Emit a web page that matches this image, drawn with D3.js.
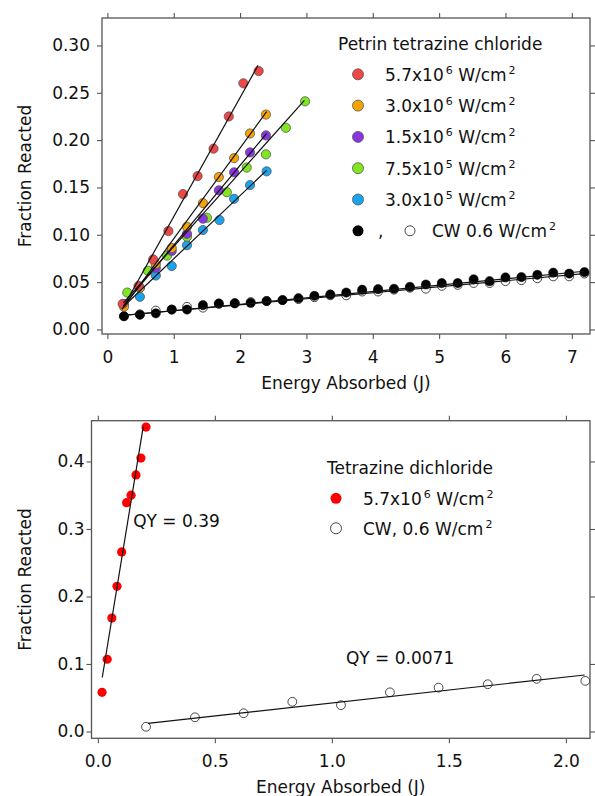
<!DOCTYPE html>
<html>
<head>
<meta charset="utf-8">
<script src="https://cdn.jsdelivr.net/npm/d3@7"></script>
<style>
  body { margin: 0; background: #fff; }
  svg text { font-family: "DejaVu Sans", sans-serif; fill: #111; }
</style>
</head>
<body>
<div id="chart_container"></div>
<script>
// ---- top panel data: Petrin tetrazine chloride ----
const top_x_ticks = [0, 1, 2, 3, 4, 5, 6, 7];
const top_y_ticks = [0, 0.05, 0.10, 0.15, 0.20, 0.25, 0.30];

const e_red = [0.23, 0.47, 0.69, 0.92, 1.14, 1.36, 1.60, 1.83, 2.05, 2.28];
const f_red = [0.027, 0.046, 0.074, 0.104, 0.143, 0.162, 0.191, 0.225, 0.260, 0.273];
const e_orange = [0.25, 0.49, 0.73, 0.97, 1.20, 1.44, 1.68, 1.91, 2.15, 2.39];
const f_orange = [0.024, 0.044, 0.069, 0.086, 0.1085, 0.1335, 0.161, 0.181, 0.207, 0.227];
const e_purple = [0.25, 0.49, 0.73, 0.97, 1.20, 1.44, 1.68, 1.91, 2.15, 2.39];
const f_purple = [0.027, 0.044, 0.065, 0.083, 0.101, 0.117, 0.147, 0.166, 0.187, 0.205];
const e_green = [0.30, 0.61, 0.90, 1.20, 1.50, 1.80, 2.10, 2.39, 2.69, 2.98];
const f_green = [0.039, 0.062, 0.078, 0.098, 0.118, 0.145, 0.171, 0.185, 0.213, 0.241];
const e_blue = [0.49, 0.73, 0.97, 1.20, 1.44, 1.69, 1.91, 2.15, 2.40];
const f_blue = [0.0345, 0.057, 0.067, 0.089, 0.105, 0.1155, 0.138, 0.1525, 0.167];

const e_cw = [0.25, 0.49, 0.73, 0.97, 1.20, 1.44, 1.68, 1.92, 2.16, 2.40,
    2.64, 2.88, 3.12, 3.36, 3.60, 3.84, 4.08, 4.32, 4.56, 4.80,
    5.04, 5.28, 5.52, 5.76, 6.00, 6.24, 6.48, 6.72, 6.96, 7.19];
const f_cw_pulsed = [0.014, 0.0155, 0.017, 0.021, 0.021, 0.0257, 0.0275, 0.0275, 0.028, 0.030,
    0.031, 0.033, 0.0355, 0.037, 0.039, 0.042, 0.0426, 0.043, 0.045, 0.0475,
    0.049, 0.049, 0.053, 0.051, 0.055, 0.0553, 0.0577, 0.060, 0.059, 0.0606];
const f_cw_open = [0.014, 0.016, 0.020, 0.021, 0.024, 0.023, 0.027, 0.028, 0.029, 0.030,
    0.031, 0.032, 0.034, 0.036, 0.036, 0.040, 0.040, 0.042, 0.044, 0.043,
    0.046, 0.047, 0.049, 0.049, 0.051, 0.052, 0.054, 0.056, 0.056, 0.059];

// fit lines [x0, y0, x1, y1]
const petrin_fits = [
    [0.22, 0.021, 2.27, 0.279],
    [0.24, 0.023, 2.40, 0.230],
    [0.24, 0.025, 2.40, 0.207],
    [0.24, 0.028, 2.97, 0.242],
    [0.24, 0.024, 2.40, 0.168],
    [0.25, 0.0148, 7.19, 0.0615],
    [0.25, 0.0150, 7.19, 0.0590]
];

const petrin_title = "Petrin tetrazine chloride";
const petrin_mant = ["5.7x10", "3.0x10", "1.5x10", "7.5x10", "3.0x10"];
const petrin_exp = ["6", "6", "6", "5", "5"];

// ---- bottom panel data: Tetrazine dichloride ----
const bot_x_ticks = [0, 0.5, 1.0, 1.5, 2.0];
const bot_y_ticks = [0, 0.1, 0.2, 0.3, 0.4];

const e_dichl_pulsed = [0.018, 0.040, 0.060, 0.082, 0.102, 0.123, 0.142, 0.163, 0.184, 0.206];
const f_dichl_pulsed = [0.058, 0.107, 0.168, 0.215, 0.266, 0.339, 0.350, 0.380, 0.405, 0.451];
const e_dichl_cw = [0.206, 0.415, 0.623, 0.831, 1.039, 1.248, 1.456, 1.666, 1.875, 2.083];
const f_dichl_cw = [0.007, 0.021, 0.027, 0.044, 0.039, 0.058, 0.065, 0.070, 0.078, 0.075];

const dichl_fits = [
    [0.019, 0.080, 0.194, 0.4515],
    [0.214, 0.012, 2.08, 0.0837]
];
const dichl_qy = ["QY = 0.39", "QY = 0.0071"];
const dichl_qy_pos = [[0.151, 0.303], [1.060, 0.100]];

// ---- styles ----
const series_colors = ["#f24545", "#f7a400", "#8a36e0", "#80e61e", "#1aa3ee"];
const frame_color = "#555";
const font_size = 17;

const svg = d3.select("#chart_container")
    .append("svg")
    .attr("width", 595)
    .attr("height", 796);

function zip(xs, ys) {
    return xs.map((x, i) => ({ x: x, y: ys[i] }));
}

function drawFrame(box, x, y, xTicks, yTicks, xFmt, yFmt, yPad) {
    const g = svg.append("g");

    const bottom = g.append("g")
        .attr("transform", `translate(0, ${box.bottom})`)
        .call(d3.axisBottom(x).tickValues(xTicks).tickFormat(xFmt).tickSizeInner(5).tickSizeOuter(0).tickPadding(12));
    const top = g.append("g")
        .attr("transform", `translate(0, ${box.top})`)
        .call(d3.axisTop(x).tickValues(xTicks).tickFormat("").tickSizeInner(5).tickSizeOuter(0));
    const left = g.append("g")
        .attr("transform", `translate(${box.left}, 0)`)
        .call(d3.axisLeft(y).tickValues(yTicks).tickFormat(yFmt).tickSizeInner(5).tickSizeOuter(0).tickPadding(yPad));
    const right = g.append("g")
        .attr("transform", `translate(${box.right}, 0)`)
        .call(d3.axisRight(y).tickValues(yTicks).tickFormat("").tickSizeInner(5).tickSizeOuter(0));

    [bottom, top, left, right].forEach(a => {
        a.select(".domain").remove();
        a.selectAll("line").attr("stroke", frame_color).attr("stroke-width", 1.1);
        a.selectAll("text").attr("font-size", font_size).attr("fill", "#111");
    });

    g.append("rect")
        .attr("x", box.left)
        .attr("y", box.top)
        .attr("width", box.right - box.left)
        .attr("height", box.bottom - box.top)
        .attr("fill", "none")
        .attr("stroke", frame_color)
        .attr("stroke-width", 1.3);

    // axis titles
    g.append("text")
        .attr("x", (box.left + box.right) / 2)
        .attr("y", box.bottom + 55)
        .attr("text-anchor", "middle")
        .attr("font-size", font_size)
        .text("Energy Absorbed (J)");
    g.append("text")
        .attr("transform", `translate(31, ${(box.top + box.bottom) / 2}) rotate(-90)`)
        .attr("text-anchor", "middle")
        .attr("font-size", font_size)
        .text("Fraction Reacted");
}

function drawPoints(x, y, pts, r, fill, stroke, sw) {
    svg.append("g").selectAll("circle")
        .data(pts)
        .enter()
        .append("circle")
        .attr("cx", d => x(d.x))
        .attr("cy", d => y(d.y))
        .attr("r", r)
        .attr("fill", fill)
        .attr("stroke", stroke)
        .attr("stroke-width", sw);
}

function drawFits(x, y, fits) {
    svg.append("g").selectAll("line")
        .data(fits)
        .enter()
        .append("line")
        .attr("x1", d => x(d[0]))
        .attr("y1", d => y(d[1]))
        .attr("x2", d => x(d[2]))
        .attr("y2", d => y(d[3]))
        .attr("stroke", "#111")
        .attr("stroke-width", 1.2);
}

// label of the form  5.7x10^6 W/cm^2
function powerLabel(sel, lead, exp, tail) {
    sel.append("tspan").text(lead);
    if (exp) {
        sel.append("tspan").attr("font-size", 11).attr("dx", 2).attr("dy", -7).text(exp);
        sel.append("tspan").attr("dy", 7).text(tail);
    } else {
        sel.append("tspan").text(tail);
    }
    sel.append("tspan").attr("font-size", 11).attr("dx", 2).attr("dy", -7).text("2");
}

// ================= top panel =================
const top_box = { left: 102, right: 590, top: 18, bottom: 334 };
const top_x = d3.scaleLinear().domain([-0.081, 7.274]).range([top_box.left, top_box.right]);
const top_y = d3.scaleLinear().domain([-0.0048, 0.329]).range([top_box.bottom, top_box.top]);

drawFrame(top_box, top_x, top_y, top_x_ticks, top_y_ticks, d3.format("d"), d3.format(".2f"), 7);

drawPoints(top_x, top_y, zip(e_cw, f_cw_open), 4.4, "#fff", "#333", 0.9);
drawPoints(top_x, top_y, zip(e_cw, f_cw_pulsed), 4.6, "#000", "#000", 0.5);
const top_series = [[e_blue, f_blue, 4], [e_green, f_green, 3], [e_purple, f_purple, 2],
    [e_orange, f_orange, 1], [e_red, f_red, 0]];
top_series.forEach(s => {
    drawPoints(top_x, top_y, zip(s[0], s[1]), 4.6, series_colors[s[2]], "#555", 0.8);
});
drawFits(top_x, top_y, petrin_fits);

// legend
const top_leg = svg.append("g");
top_leg.append("text")
    .attr("x", 338)
    .attr("y", 50)
    .attr("font-size", font_size)
    .text(petrin_title);
petrin_mant.forEach((m, i) => {
    const cy = 74.3 + i * 31.3;
    top_leg.append("circle")
        .attr("cx", 358).attr("cy", cy).attr("r", 5.5)
        .attr("fill", series_colors[i]).attr("stroke", "#555").attr("stroke-width", 0.8);
    const t = top_leg.append("text")
        .attr("x", 385).attr("y", cy + 6.3)
        .attr("font-size", font_size);
    powerLabel(t, m, petrin_exp[i], " W/cm");
});
const cw_cy = 74.3 + 5 * 31.3;
top_leg.append("circle")
    .attr("cx", 358).attr("cy", cw_cy).attr("r", 5.5)
    .attr("fill", "#000");
top_leg.append("text")
    .attr("x", 378).attr("y", cw_cy + 6.3)
    .attr("font-size", font_size)
    .text(",");
top_leg.append("circle")
    .attr("cx", 410).attr("cy", cw_cy).attr("r", 5)
    .attr("fill", "#fff").attr("stroke", "#333").attr("stroke-width", 0.9);
const cw_text = top_leg.append("text")
    .attr("x", 432).attr("y", cw_cy + 6.3)
    .attr("font-size", font_size);
powerLabel(cw_text, "CW 0.6 W/cm", null, "");

// ================= bottom panel =================
const bot_box = { left: 91.5, right: 590, top: 420.7, bottom: 738.3 };
const bot_x = d3.scaleLinear().domain([-0.027, 2.103]).range([bot_box.left, bot_box.right]);
const bot_y = d3.scaleLinear().domain([-0.0101, 0.4604]).range([bot_box.bottom, bot_box.top]);

drawFrame(bot_box, bot_x, bot_y, bot_x_ticks, bot_y_ticks, d3.format(".1f"), d3.format(".1f"), 2);

drawPoints(bot_x, bot_y, zip(e_dichl_cw, f_dichl_cw), 4.4, "#fff", "#333", 0.9);
drawPoints(bot_x, bot_y, zip(e_dichl_pulsed, f_dichl_pulsed), 4.6, "#f00", "none", 0);
drawFits(bot_x, bot_y, dichl_fits);

svg.append("g").selectAll("text")
    .data(dichl_qy)
    .enter()
    .append("text")
    .attr("x", (d, i) => bot_x(dichl_qy_pos[i][0]))
    .attr("y", (d, i) => bot_y(dichl_qy_pos[i][1]))
    .attr("font-size", font_size)
    .text(d => d);

const bot_leg = svg.append("g");
bot_leg.append("text")
    .attr("x", 327).attr("y", 473.5)
    .attr("font-size", font_size)
    .text("Tetrazine dichloride");
bot_leg.append("circle")
    .attr("cx", 336).attr("cy", 498.3).attr("r", 5.5)
    .attr("fill", "#f00");
powerLabel(bot_leg.append("text").attr("x", 363).attr("y", 504.6).attr("font-size", font_size),
    "5.7x10", "6", " W/cm");
bot_leg.append("circle")
    .attr("cx", 336).attr("cy", 528.3).attr("r", 5.5)
    .attr("fill", "#fff").attr("stroke", "#333").attr("stroke-width", 0.9);
powerLabel(bot_leg.append("text").attr("x", 363).attr("y", 534.6).attr("font-size", font_size),
    "CW, 0.6 W/cm", null, "");
</script>
</body>
</html>
